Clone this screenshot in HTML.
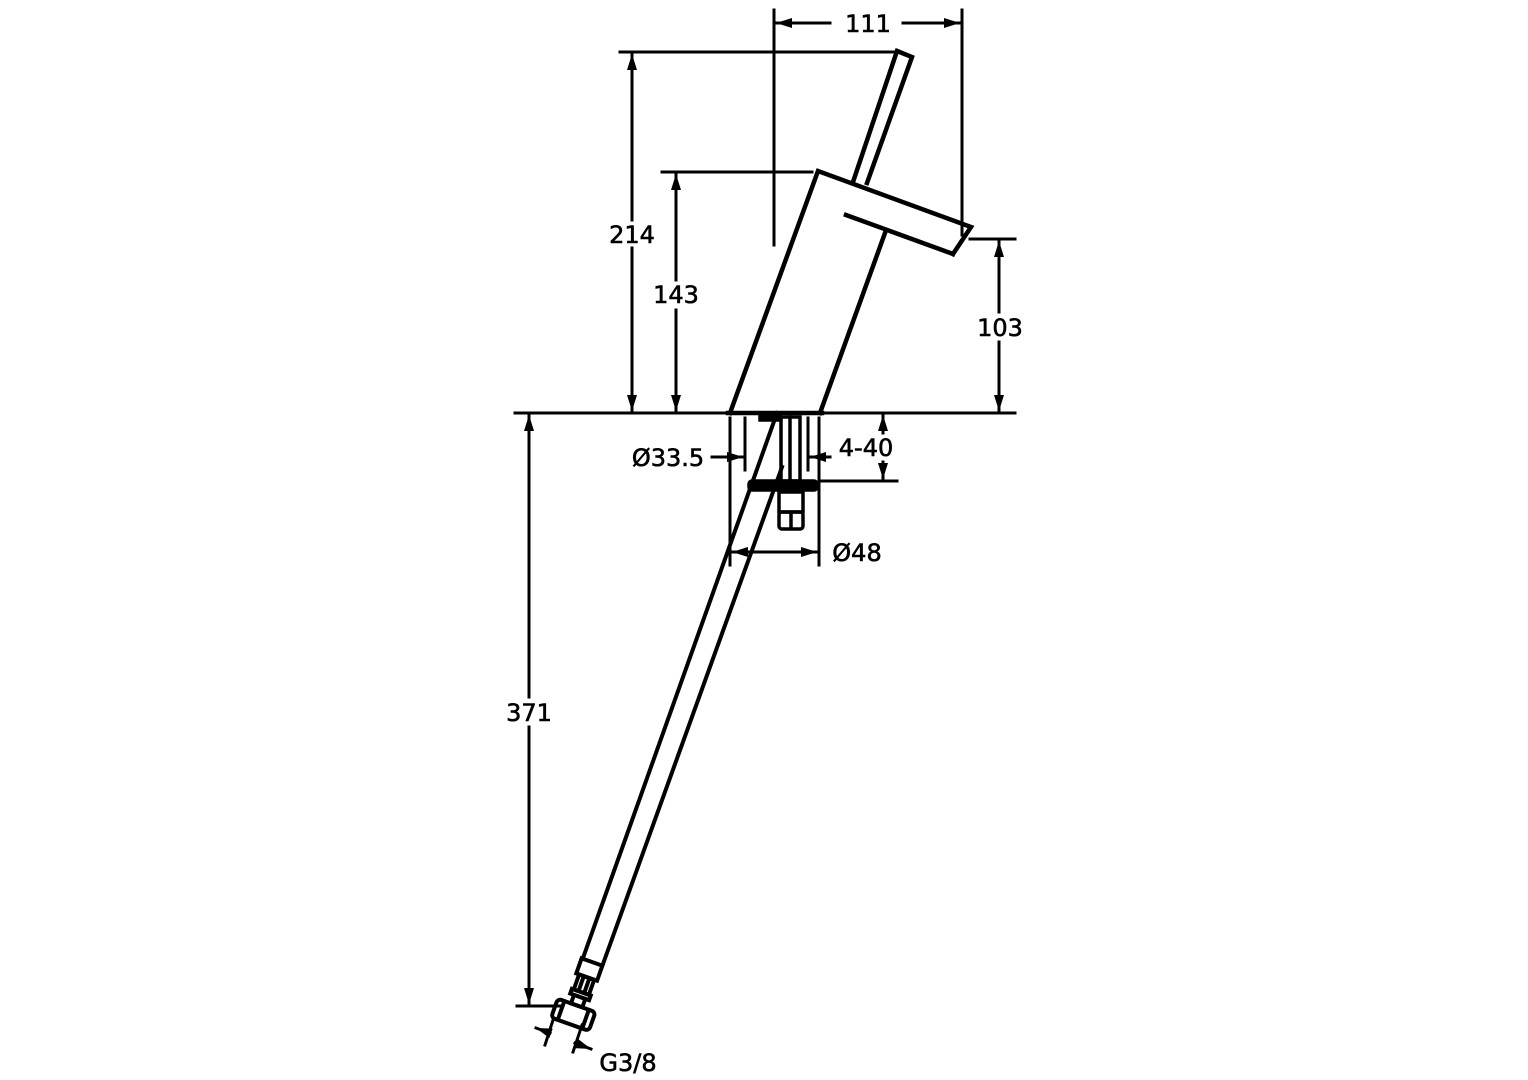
<!DOCTYPE html>
<html><head><meta charset="utf-8"><style>
html,body{margin:0;padding:0;background:#fff;}
svg{display:block;}
text{font-family:"DejaVu Sans","Liberation Sans",sans-serif;font-size:24px;fill:#000;stroke:#000;stroke-width:0.6;}
</style></head><body>
<svg width="1528" height="1080" viewBox="0 0 1528 1080" xmlns="http://www.w3.org/2000/svg">
<defs>
<marker id="a" viewBox="0 0 16 10" refX="16" refY="5" markerWidth="16" markerHeight="10" orient="auto-start-reverse" markerUnits="userSpaceOnUse">
<path d="M0,0 L16,5 L0,10 Z" fill="#000"/></marker>
</defs>
<g stroke="#000" fill="none" stroke-linecap="square">
<g stroke-width="4.5">
<polyline points="897,51 912,57 867,183"/>
<line x1="897" y1="51" x2="853" y2="182"/>
<polyline points="730,413 818,171 971,227 953,254"/>
<line x1="846" y1="215" x2="953" y2="254"/>
<line x1="885" y1="233" x2="820" y2="413"/>
<line x1="728" y1="413" x2="822" y2="413"/>
</g>
<g stroke-width="3.5">
<rect x="781" y="417" width="19" height="64"/>
<line x1="790" y1="417" x2="790" y2="481"/>
<rect x="749" y="481" width="68" height="9" rx="3" fill="#000"/>
<rect x="779" y="492" width="24" height="20"/>
<rect x="779" y="512" width="24" height="17" rx="3"/>
<line x1="791" y1="514" x2="791" y2="528"/>
<rect x="760" y="414" width="20" height="6" fill="#000"/>
</g>
<g stroke-width="4">
<line x1="777" y1="413" x2="583" y2="958"/>
<line x1="782" y1="467" x2="603" y2="964"/>
</g>
<g transform="translate(592,962) rotate(19.5)" stroke-width="4">
<rect x="-11" y="0" width="22" height="16"/>
<rect x="-8" y="16" width="16" height="16"/>
<line x1="-3" y1="18" x2="-3" y2="30"/><line x1="3" y1="18" x2="3" y2="30"/>
<rect x="-10" y="32" width="20" height="5"/>
<rect x="-6" y="37" width="12" height="9"/>
<rect x="-20" y="46" width="40" height="20" rx="4"/>
<line x1="-13" y1="48" x2="-13" y2="64"/><line x1="13" y1="48" x2="13" y2="64"/>
</g>
<g stroke-width="3">
<line x1="515" y1="413" x2="1015" y2="413"/>
<line x1="774" y1="10" x2="774" y2="245"/>
<line x1="962" y1="10" x2="962" y2="235"/>
<line x1="830" y1="23" x2="776" y2="23" marker-end="url(#a)"/>
<line x1="903" y1="23" x2="960" y2="23" marker-end="url(#a)"/>
<line x1="620" y1="52" x2="893" y2="52"/>
<line x1="632" y1="220" x2="632" y2="54" marker-end="url(#a)"/>
<line x1="632" y1="248" x2="632" y2="411" marker-end="url(#a)"/>
<line x1="662" y1="172" x2="812" y2="172"/>
<line x1="676" y1="280" x2="676" y2="174" marker-end="url(#a)"/>
<line x1="676" y1="310" x2="676" y2="411" marker-end="url(#a)"/>
<line x1="970" y1="239" x2="1015" y2="239"/>
<line x1="999" y1="312" x2="999" y2="241" marker-end="url(#a)"/>
<line x1="999" y1="342" x2="999" y2="411" marker-end="url(#a)"/>
<line x1="517" y1="1006" x2="560" y2="1006"/>
<line x1="529" y1="697" x2="529" y2="415" marker-end="url(#a)"/>
<line x1="529" y1="727" x2="529" y2="1004" marker-end="url(#a)"/>
<line x1="820" y1="481" x2="897" y2="481"/>
<line x1="883" y1="433" x2="883" y2="415" marker-end="url(#a)"/>
<line x1="883" y1="462" x2="883" y2="479" marker-end="url(#a)"/>
<line x1="745" y1="418" x2="745" y2="470"/>
<line x1="808" y1="418" x2="808" y2="470"/>
<line x1="712" y1="457" x2="743" y2="457" marker-end="url(#a)"/>
<line x1="830" y1="457" x2="810" y2="457" marker-end="url(#a)"/>
<line x1="730" y1="418" x2="730" y2="565"/>
<line x1="819" y1="418" x2="819" y2="565"/>
<line x1="775" y1="552" x2="732" y2="552" marker-end="url(#a)"/>
<line x1="775" y1="552" x2="817" y2="552" marker-end="url(#a)"/>
<line x1="553" y1="1020" x2="545" y2="1045"/>
<line x1="582" y1="1025" x2="573" y2="1052"/>
<line x1="550" y1="1033" x2="536" y2="1028" marker-end="url(#a)"/>
<line x1="575" y1="1043" x2="591" y2="1049" marker-end="url(#a)"/>
</g>
</g>
<g text-anchor="middle">
<text x="868" y="32">111</text>
<text x="632" y="243">214</text>
<text x="676" y="303">143</text>
<text x="1000" y="336">103</text>
<text x="529" y="721">371</text>
<text x="866" y="456">4-40</text>
<text x="668" y="466">Ø33.5</text>
<text x="857" y="561">Ø48</text>
<text x="628" y="1071">G3/8</text>
</g>
</svg>
</body></html>
